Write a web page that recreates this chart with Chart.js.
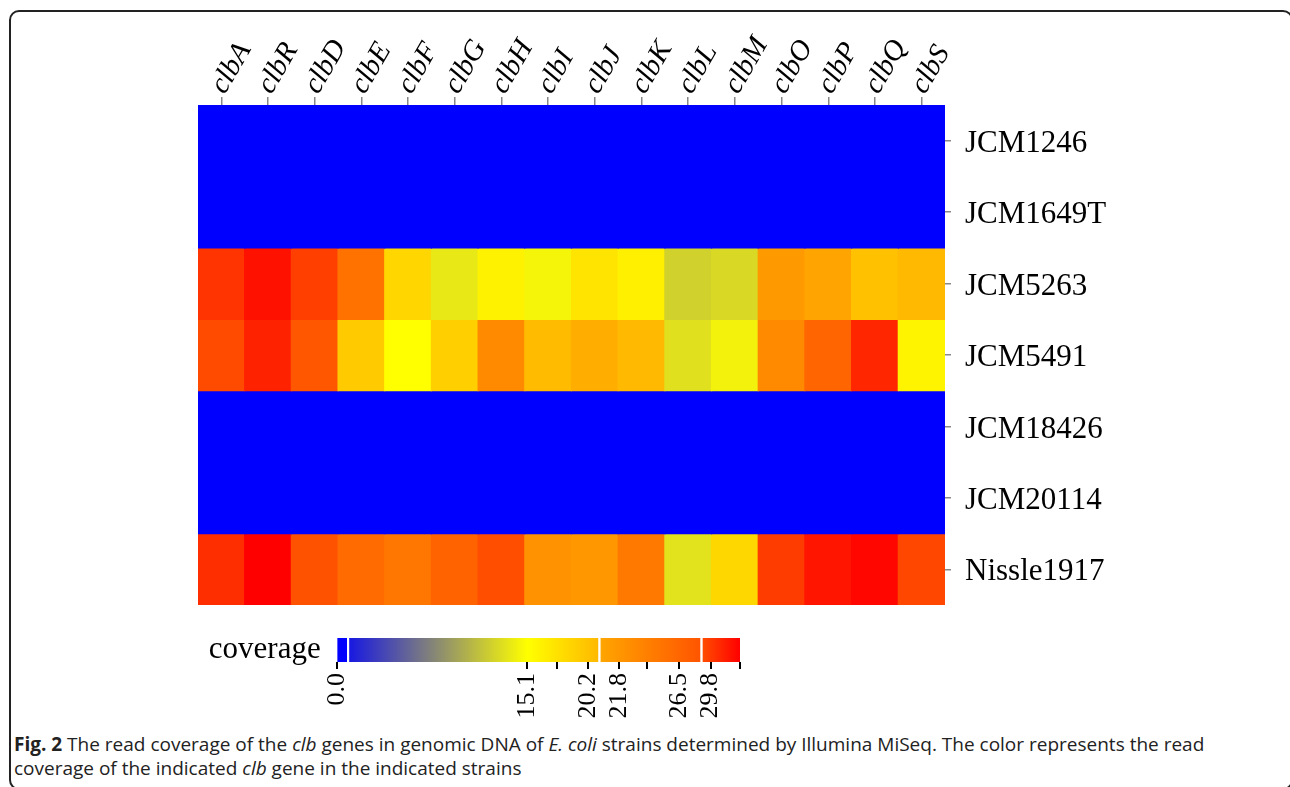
<!DOCTYPE html>
<html>
<head>
<meta charset="utf-8">
<script src="https://cdn.jsdelivr.net/npm/chart.js@4.4.1/dist/chart.umd.min.js"></script>
<style>
  body { margin: 0; background: #fff; width: 1290px; height: 787px; overflow: hidden; position: relative; }
  #frame { position: absolute; left: 9px; top: 10px; width: 1284px; height: 780px; border: 2px solid #222; border-radius: 10px; box-sizing: border-box; }
  #heat { position: absolute; left: 0; top: 0; }
  #legend { position: absolute; left: 190px; top: 620px; }
  #caption { position: absolute; left: 14px; top: 732px; width: 1250px; font-family: "Open Sans", sans-serif; font-size: 19px; line-height: 24px; color: #222; }
</style>
</head>
<body>
<div id="frame"></div>
<canvas id="heat" width="1290" height="615"></canvas>
<canvas id="legend" width="580" height="110"></canvas>
<div id="caption"><b>Fig. 2</b> The read coverage of the <i>clb</i> genes in genomic DNA of <i>E. coli</i> strains determined by Illumina MiSeq. The color represents the read coverage of the indicated <i>clb</i> gene in the indicated strains</div>
<script>
// genes (columns) and strains (rows)
const genes = ['clbA','clbR','clbD','clbE','clbF','clbG','clbH','clbI','clbJ','clbK','clbL','clbM','clbO','clbP','clbQ','clbS'];
const strains = ['JCM1246','JCM1649T','JCM5263','JCM5491','JCM18426','JCM20114','Nissle1917'];

// read coverage per strain, same order as genes
const covJCM1246   = [0, 0, 0, 0, 0, 0, 0, 0, 0, 0, 0, 0, 0, 0, 0, 0];
const covJCM1649T  = [0, 0, 0, 0, 0, 0, 0, 0, 0, 0, 0, 0, 0, 0, 0, 0];
const covJCM5263   = [30.2, 32.0, 29.6, 25.3, 18.6, 13.7, 16.2, 14.5, 17.4, 16.4, 12.3, 12.8, 21.6, 20.9, 20.3, 20.7];
const covJCM5491   = [29.0, 31.1, 28.6, 19.5, 15.1, 19.2, 23.0, 20.6, 20.8, 20.7, 13.2, 14.3, 23.0, 26.6, 30.9, 16.0];
const covJCM18426  = [0, 0, 0, 0, 0, 0, 0, 0, 0, 0, 0, 0, 0, 0, 0, 0];
const covJCM20114  = [0, 0, 0, 0, 0, 0, 0, 0, 0, 0, 0, 0, 0, 0, 0, 0];
const covNissle1917 = [30.5, 32.9, 28.8, 26.0, 24.8, 26.9, 28.9, 22.2, 21.7, 24.6, 13.3, 18.5, 29.8, 31.8, 32.5, 29.2];

// legend breaks (labelled ticks)
const legendBreaks = [0, 15.1, 20.2, 21.8, 26.5, 29.8];
const legendLabels = ['0.0', '15.1', '20.2', '21.8', '26.5', '29.8'];

const coverage = [covJCM1246, covJCM1649T, covJCM5263, covJCM5491, covJCM18426, covJCM20114, covNissle1917];

// where the breaks sit along the legend bar (0..1), plus the unlabelled ticks
const breakPos = [0, 0.473, 0.623, 0.700, 0.849, 0.927];
const extraTickPos = [0.546, 0.770, 1.0];

// colour ramp along the legend bar
const colorStops = [
  [0.000, [0, 0, 255]],
  [0.025, [0, 0, 255]],
  [0.032, [25, 25, 225]],
  [0.473, [255, 255, 0]],
  [0.648, [255, 185, 0]],
  [0.655, [255, 165, 0]],
  [0.901, [255, 85, 0]],
  [0.908, [255, 75, 0]],
  [1.000, [255, 0, 0]]
];
const gapStops = [[0.0265, 0.0305], [0.6495, 0.6535], [0.9025, 0.9065]];

// coverage -> position on legend (piecewise through the breaks)
function toLegendPos(v) {
  const n = legendBreaks.length;
  for (let i = 1; i < n; i++) {
    if (v <= legendBreaks[i]) {
      const t = (v - legendBreaks[i-1]) / (legendBreaks[i] - legendBreaks[i-1]);
      return breakPos[i-1] + t * (breakPos[i] - breakPos[i-1]);
    }
  }
  const slope = (breakPos[n-1] - breakPos[n-2]) / (legendBreaks[n-1] - legendBreaks[n-2]);
  return Math.min(1, breakPos[n-1] + (v - legendBreaks[n-1]) * slope);
}

function colorAt(f) {
  for (let i = 1; i < colorStops.length; i++) {
    if (f <= colorStops[i][0]) {
      const a = colorStops[i-1], b = colorStops[i];
      const t = (f - a[0]) / (b[0] - a[0]);
      const c = a[1].map((x, k) => Math.round(x + t * (b[1][k] - x)));
      return `rgb(${c[0]},${c[1]},${c[2]})`;
    }
  }
  return 'rgb(255,0,0)';
}

const colorFor = v => colorAt(toLegendPos(v));

Chart.defaults.font.family = '"Liberation Serif", "DejaVu Serif", serif';
Chart.defaults.color = '#000';

// heatmap
new Chart(document.getElementById('heat'), {
  type: 'bar',
  data: {
    labels: genes,
    datasets: strains.map((s, i) => ({
      label: s,
      data: genes.map(() => [i, i + 1]),
      backgroundColor: coverage[i].map(colorFor),
      borderWidth: 0,
      inflateAmount: 0.6,
      grouped: false,
      barPercentage: 1,
      categoryPercentage: 1
    }))
  },
  options: {
    responsive: false,
    animation: false,
    layout: { padding: { left: 198, top: 10, right: 0, bottom: 10 } },
    scales: {
      x: {
        position: 'top',
        afterFit: s => { s.height = 95; s.paddingLeft = 0; s.paddingRight = 0; },
        grid: { offset: false, drawOnChartArea: false, tickLength: 8, color: '#888', lineWidth: 1.5 },
        border: { display: false },
        ticks: { autoSkip: false, minRotation: 60, maxRotation: 60, padding: -3, labelOffset: 27,
                 font: { size: 29, style: 'italic' } }
      },
      y: {
        type: 'linear',
        position: 'right',
        min: 0,
        max: strains.length,
        reverse: true,
        afterFit: s => { s.width = 345; s.paddingTop = 0; s.paddingBottom = 0; },
        afterBuildTicks: ax => { ax.ticks = strains.map((s, i) => ({ value: i + 0.5 })); },
        grid: { drawOnChartArea: false, tickLength: 6, color: '#888', lineWidth: 1.5 },
        border: { display: false },
        ticks: { autoSkip: false, padding: 14, labelOffset: 3, font: { size: 31 },
                 callback: (v, i) => strains[i] }
      }
    },
    plugins: { legend: { display: false }, tooltip: { enabled: false } }
  }
});

// colour key
function legendFill(context) {
  const chart = context.chart;
  if (!chart.chartArea) return 'rgb(0,0,255)';
  const x = chart.scales.x;
  const g = chart.ctx.createLinearGradient(x.getPixelForValue(0), 0, x.getPixelForValue(1), 0);
  const stops = colorStops.map(s => [s[0], `rgb(${s[1].join(',')})`]);
  gapStops.forEach(gp => { stops.push([gp[0], '#fff']); stops.push([gp[1], '#fff']); });
  stops.sort((a, b) => a[0] - b[0]);
  stops.forEach(s => g.addColorStop(s[0], s[1]));
  return g;
}

const tickPos = breakPos.concat(extraTickPos).sort((a, b) => a - b);
const tickText = tickPos.map(p => {
  const k = breakPos.indexOf(p);
  return k >= 0 ? legendLabels[k] : '';
});

new Chart(document.getElementById('legend'), {
  type: 'bar',
  data: {
    labels: ['coverage'],
    datasets: [{ data: [[0, 1]], backgroundColor: legendFill, borderWidth: 0,
                 barPercentage: 1, categoryPercentage: 1 }]
  },
  options: {
    indexAxis: 'y',
    responsive: false,
    animation: false,
    layout: { padding: { left: 0, right: 30, top: 18, bottom: 0 } },
    scales: {
      x: {
        type: 'linear', min: 0, max: 1,
        afterFit: s => { s.height = 68; s.paddingLeft = 0; s.paddingRight = 0; },
        afterBuildTicks: ax => { ax.ticks = tickPos.map(v => ({ value: v })); },
        grid: { drawOnChartArea: false, tickLength: 7, color: '#000', lineWidth: 2 },
        border: { display: false },
        ticks: { autoSkip: false, minRotation: 90, maxRotation: 90, padding: 4,
                 font: { size: 26 }, callback: (v, i) => tickText[i] }
      },
      y: {
        afterFit: s => { s.width = 146.7; s.paddingTop = 0; s.paddingBottom = 0; },
        grid: { display: false },
        border: { display: false },
        ticks: { padding: 8, font: { size: 31 } }
      }
    },
    plugins: { legend: { display: false }, tooltip: { enabled: false } }
  }
});
</script>
</body>
</html>
